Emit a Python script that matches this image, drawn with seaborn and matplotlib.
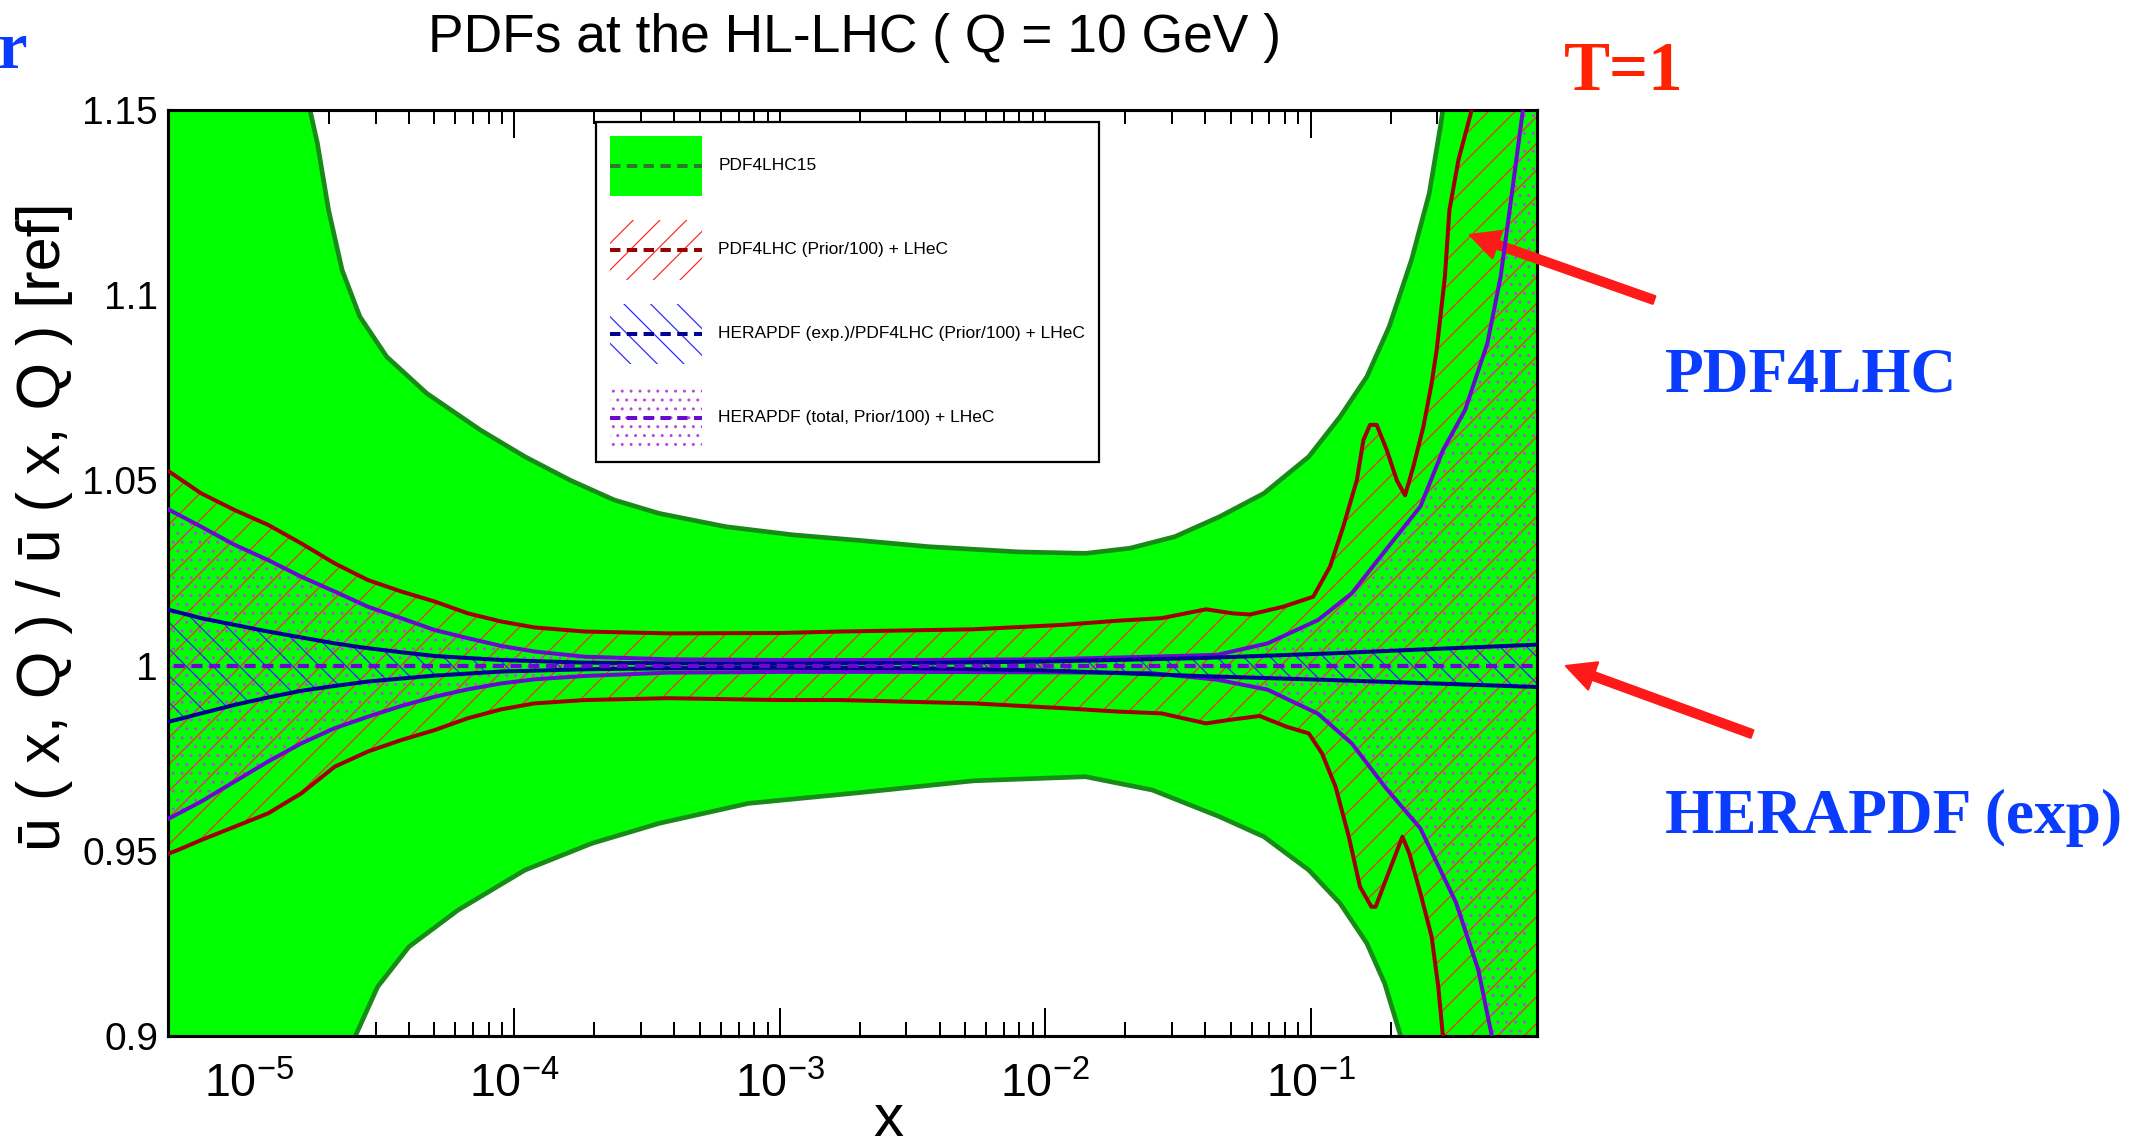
import numpy as np
import matplotlib
matplotlib.use("Agg")
import matplotlib.pyplot as plt
import seaborn as sns
from matplotlib.patches import Patch, Rectangle
from matplotlib.lines import Line2D
from matplotlib.ticker import LogLocator, NullFormatter, MultipleLocator

# ---------------- data (log10 x, ratio) ----------------
green_up_logx = [-5.35, -4.85, -4.770, -4.742, -4.700, -4.649, -4.582, -4.481, -4.330, -4.128, -3.960,
                 -3.791, -3.623, -3.455, -3.203, -2.950, -2.700, -2.437, -2.100, -1.848, -1.680, -1.512,
                 -1.343, -1.176, -1.007, -0.889, -0.788, -0.704, -0.620, -0.553, -0.511, -0.502, -0.40, -0.10]
green_up_y = [1.40, 1.20, 1.150, 1.141, 1.123, 1.1068, 1.0942, 1.0834, 1.0735, 1.0636, 1.0564,
              1.0501, 1.0447, 1.0411, 1.0375, 1.0353, 1.0338, 1.0321, 1.0307, 1.0303, 1.0317, 1.0348,
              1.0402, 1.0465, 1.0564, 1.0672, 1.078, 1.0915, 1.1095, 1.1275, 1.1455, 1.150, 1.22, 1.40]

green_lo_logx = [-5.35, -4.75, -4.599, -4.515, -4.397, -4.212, -3.960, -3.708, -3.455, -3.118, -2.700,
                 -2.269, -1.848, -1.596, -1.343, -1.176, -1.007, -0.889, -0.788, -0.721, -0.662, -0.55, -0.10]
green_lo_y = [0.70, 0.86, 0.900, 0.9133, 0.9241, 0.934, 0.9448, 0.952, 0.9574, 0.9628, 0.9657,
              0.9689, 0.970, 0.9664, 0.9592, 0.9538, 0.9448, 0.9358, 0.925, 0.9142, 0.9003, 0.86, 0.70]

red_up_logx = [-5.33, -5.299, -5.180, -5.054, -4.928, -4.803, -4.677, -4.552, -4.426, -4.300, -4.175,
               -4.049, -3.924, -3.735, -3.421, -3.000, -2.773, -2.269, -1.933, -1.730, -1.562, -1.394,
               -1.293, -1.228, -1.103, -0.990, -0.927, -0.877, -0.826, -0.801, -0.776, -0.751, -0.713,
               -0.675, -0.644, -0.613, -0.575, -0.544, -0.525, -0.494, -0.477, -0.443, -0.393, -0.30, -0.10]
red_up_y = [1.0535, 1.0523, 1.0465, 1.042, 1.038, 1.033, 1.0276, 1.0231, 1.020, 1.0173, 1.0141,
            1.0119, 1.0103, 1.0092, 1.0087, 1.0088, 1.0092, 1.0098, 1.011, 1.0121, 1.0128, 1.0152,
            1.0141, 1.0138, 1.0159, 1.0186, 1.0267, 1.0375, 1.050, 1.0609, 1.065, 1.065, 1.0582,
            1.050, 1.046, 1.0537, 1.0645, 1.0762, 1.0852, 1.105, 1.123, 1.1365, 1.150, 1.20, 1.30]

red_lo_logx = [-5.33, -5.268, -5.180, -5.054, -4.928, -4.803, -4.677, -4.552, -4.426, -4.300, -4.175,
               -4.049, -3.924, -3.735, -3.421, -3.000, -2.773, -2.269, -1.933, -1.730, -1.562, -1.394,
               -1.310, -1.192, -1.091, -1.007, -0.957, -0.906, -0.856, -0.814, -0.771, -0.755, -0.712,
               -0.654, -0.628, -0.586, -0.544, -0.519, -0.502, -0.40, -0.10]
red_lo_y = [0.9485, 0.9502, 0.9529, 0.9565, 0.9601, 0.9655, 0.9727, 0.9768, 0.9799, 0.9826, 0.9858,
            0.9882, 0.9898, 0.9907, 0.9912, 0.9907, 0.9907, 0.9898, 0.9885, 0.9876, 0.9871, 0.9844,
            0.9853, 0.9864, 0.9835, 0.9817, 0.9763, 0.9673, 0.9538, 0.9403, 0.9349, 0.9349, 0.943,
            0.9538, 0.9493, 0.9385, 0.9268, 0.9133, 0.9003, 0.86, 0.80]

purple_up_logx = [-5.33, -5.299, -5.180, -5.054, -4.928, -4.803, -4.677, -4.552, -4.426, -4.300, -4.175,
                  -4.049, -3.924, -3.735, -3.421, -3.000, -2.500, -2.000, -1.605, -1.352, -1.162, -0.972,
                  -0.845, -0.717, -0.586, -0.501, -0.418, -0.334, -0.284, -0.250, -0.225, -0.200, -0.10]
purple_up_y = [1.0435, 1.042, 1.0375, 1.0326, 1.0285, 1.024, 1.020, 1.0159, 1.0128, 1.0096, 1.0074,
               1.0053, 1.0038, 1.0024, 1.0017, 1.0015, 1.0015, 1.0017, 1.0024, 1.0029, 1.006, 1.0123,
               1.0195, 1.0312, 1.043, 1.0582, 1.069, 1.087, 1.105, 1.123, 1.1365, 1.150, 1.22]

purple_lo_logx = [-5.33, -5.299, -5.180, -5.054, -4.928, -4.803, -4.677, -4.552, -4.426, -4.300, -4.175,
                  -4.049, -3.924, -3.735, -3.421, -3.000, -2.500, -2.000, -1.605, -1.352, -1.162, -0.972,
                  -0.845, -0.717, -0.586, -0.452, -0.368, -0.318, -0.20]
purple_lo_y = [0.9575, 0.9588, 0.9633, 0.9687, 0.9741, 0.979, 0.9831, 0.9862, 0.9891, 0.9916, 0.9936,
               0.9952, 0.9963, 0.9972, 0.9981, 0.9983, 0.9983, 0.9982, 0.998, 0.9962, 0.9935, 0.9870,
               0.9790, 0.9670, 0.9560, 0.9360, 0.9178, 0.9003, 0.86]

blue_up_logx = [-5.33, -5.299, -5.180, -5.054, -4.928, -4.803, -4.677, -4.552, -4.426, -4.300, -4.049,
                -3.735, -3.400, -3.000, -2.500, -2.000, -1.428, -0.923, -0.500, -0.10]
blue_up_y = [1.0155, 1.015, 1.0128, 1.011, 1.0092, 1.0076, 1.006, 1.0047, 1.0036, 1.0026, 1.0015,
             1.0008, 1.0006, 1.0005, 1.0007, 1.0011, 1.002, 1.0033, 1.0046, 1.0058]

blue_lo_logx = [-5.33, -5.299, -5.180, -5.054, -4.928, -4.803, -4.677, -4.552, -4.300, -4.049, -3.735,
                -3.400, -3.000, -2.500, -2.000, -1.428, -0.923, -0.500, -0.10]
blue_lo_y = [0.9845, 0.9849, 0.9871, 0.9894, 0.9914, 0.9932, 0.9945, 0.9957, 0.9973, 0.9984, 0.999,
             0.9993, 0.9994, 0.9993, 0.9987, 0.9972, 0.9961, 0.9951, 0.9941]

central_logx = [-5.35, -0.10]
central_y = [1.0, 1.0]

yticks = [0.9, 0.95, 1.0, 1.05, 1.1, 1.15]
ytick_labels = ["0.9", "0.95", "1", "1.05", "1.1", "1.15"]

legend_labels = ["PDF4LHC15", "PDF4LHC (Prior/100) + LHeC",
                 "HERAPDF (exp.)/PDF4LHC (Prior/100) + LHeC",
                 "HERAPDF (total, Prior/100) + LHeC"]

title_text = "PDFs at the HL-LHC ( Q = 10 GeV )"
ylabel_text = "ū ( x, Q ) / ū ( x, Q ) [ref]"
xlabel_text = "x"

# ---------------- style ----------------
W, H, DPI = 2138, 1144, 160
sns.set_style("ticks")
plt.rcParams['font.family'] = ['Liberation Sans', 'DejaVu Sans']
plt.rcParams['mathtext.fontset'] = 'custom'
plt.rcParams['mathtext.rm'] = 'Liberation Sans'
plt.rcParams['mathtext.it'] = 'Liberation Sans:italic'
plt.rcParams['mathtext.bf'] = 'Liberation Sans:bold'
plt.rcParams['mathtext.default'] = 'regular'
plt.rcParams['hatch.linewidth'] = 0.55
plt.rcParams['text.color'] = 'black'
plt.rcParams['axes.edgecolor'] = 'black'
plt.rcParams['xtick.color'] = 'black'
plt.rcParams['ytick.color'] = 'black'

GREEN = '#00ff00'
GREEN_EDGE = '#178a17'
RED = '#a00000'
RED_HATCH = '#ff2a2a'
PURPLE = '#6a0ad0'
DOT = '#b848e0'
NAVY = '#000096'
BLUE_HATCH = '#2a2aff'
TXT_BLUE = '#0a3cff'
TXT_RED = '#ff2200'
ARROW_RED = '#ff1a1a'

fig = plt.figure(figsize=(W / DPI, H / DPI), dpi=DPI)
ax = fig.add_axes([168 / W, 1 - 1036 / H, (1537 - 168) / W, (1036 - 110) / H])
ax.set_xscale('log')


def X(lg):
    return 10.0 ** np.asarray(lg, dtype=float)


def band(xu, yu, xl, yl, **kw):
    xs = np.concatenate([X(xu), X(xl)[::-1]])
    ys = np.concatenate([np.asarray(yu), np.asarray(yl)[::-1]])
    return ax.fill(xs, ys, **kw)


def line(lx, ly, color, lw, z, **kw):
    sns.lineplot(x=X(lx), y=np.asarray(ly), ax=ax, color=color, linewidth=lw,
                 sort=False, estimator=None, legend=False, zorder=z, **kw)


# bands
band(green_up_logx, green_up_y, green_lo_logx, green_lo_y, facecolor=GREEN, edgecolor='none', lw=0, zorder=1)
band(red_up_logx, red_up_y, red_lo_logx, red_lo_y, facecolor='none', edgecolor=RED_HATCH, hatch='//', lw=0, zorder=1.2)
band(purple_up_logx, purple_up_y, purple_lo_logx, purple_lo_y, facecolor='none', edgecolor=DOT, hatch='...', lw=0, zorder=1.3)
band(blue_up_logx, blue_up_y, blue_lo_logx, blue_lo_y, facecolor='none', edgecolor=BLUE_HATCH, hatch='\\\\', lw=0, zorder=1.4)

# boundary lines
line(green_up_logx, green_up_y, GREEN_EDGE, 2.1, 2)
line(green_lo_logx, green_lo_y, GREEN_EDGE, 2.1, 2)
line(red_up_logx, red_up_y, RED, 1.8, 3)
line(red_lo_logx, red_lo_y, RED, 1.8, 3)
line(purple_up_logx, purple_up_y, PURPLE, 1.8, 3.2)
line(purple_lo_logx, purple_lo_y, PURPLE, 1.8, 3.2)
line(blue_up_logx, blue_up_y, NAVY, 1.8, 3.4)
line(blue_lo_logx, blue_lo_y, NAVY, 1.8, 3.4)
line(central_logx, central_y, PURPLE, 1.9, 3.6, linestyle=(0, (2.6, 1.6)))

# axes
ax.set_xlim(10 ** -5.305, 10 ** -0.147)
ax.set_ylim(0.9, 1.15)
ax.set_xlabel('')
ax.set_ylabel('')
ax.xaxis.set_major_locator(LogLocator(base=10, numticks=20))
ax.xaxis.set_minor_locator(LogLocator(base=10, subs=np.arange(2, 10), numticks=20))
ax.xaxis.set_minor_formatter(NullFormatter())
ax.set_yticks(yticks)
ax.set_yticklabels(ytick_labels)
ax.yaxis.set_minor_locator(MultipleLocator(0.01))
for s in ax.spines.values():
    s.set_visible(True)
    s.set_linewidth(1.4)
    s.set_color('black')
ax.tick_params(axis='both', which='both', direction='in', top=True, right=True, width=0.9, color='black')
ax.tick_params(axis='x', which='major', length=12.6, pad=12, labelsize=21)
ax.tick_params(axis='x', which='minor', length=6.3)
ax.tick_params(axis='y', which='major', length=10.5, pad=4.5, labelsize=17.5)
ax.tick_params(axis='y', which='minor', length=5.4)


# legend: band patch with a dashed central line through its middle
class BandHandler:
    def legend_artist(self, legend, orig_handle, fontsize, handlebox):
        patch, ln = orig_handle
        x0, y0 = handlebox.xdescent, handlebox.ydescent
        w, h = handlebox.width, handlebox.height
        tr = handlebox.get_transform()
        rect = Rectangle((-x0, -y0), w, h, facecolor=patch.get_facecolor(),
                         edgecolor=patch.get_edgecolor(), hatch=patch.get_hatch(), lw=0, transform=tr)
        handlebox.add_artist(rect)
        mid = -y0 + h / 2.0
        dash = Line2D([-x0, -x0 + w], [mid, mid], color=ln.get_color(), lw=ln.get_linewidth(),
                      linestyle=ln.get_linestyle(), transform=tr)
        dash.set_dashes((2.6, 1.6))
        handlebox.add_artist(dash)
        return rect


LEG_FS = 7.8
handles = [
    (Patch(facecolor=GREEN, edgecolor='none', lw=0),
     Line2D([], [], color='#2a7a2a', lw=1.8, linestyle='--')),
    (Patch(facecolor='white', edgecolor=RED_HATCH, hatch='//', lw=0),
     Line2D([], [], color='#990000', lw=1.8, linestyle='--')),
    (Patch(facecolor='white', edgecolor=BLUE_HATCH, hatch='\\\\', lw=0),
     Line2D([], [], color=NAVY, lw=1.8, linestyle='--')),
    (Patch(facecolor='white', edgecolor=DOT, hatch='...', lw=0),
     Line2D([], [], color=PURPLE, lw=1.8, linestyle='--')),
]
leg = ax.legend(handles, legend_labels, loc='upper left',
                bbox_to_anchor=((596 - 168) / 1369, (1036 - 122) / 926), borderaxespad=0,
                fontsize=LEG_FS, handlelength=5.3, handleheight=4.95, handletextpad=0.96,
                labelspacing=1.385, borderpad=0.8, frameon=True, fancybox=False,
                edgecolor='black', framealpha=1, handler_map={tuple: BandHandler()})
leg.get_frame().set_linewidth(1.0)
leg.set_zorder(10)

# texts
fig.text(854 / W, 1 - 52 / H, title_text, ha='center', va='baseline', fontsize=24)
fig.text(45 / W, 1 - 527 / H, ylabel_text, ha='center', va='center', rotation=90, fontsize=27.5)
fig.text(888 / W, 1 - 1136 / H, xlabel_text, ha='center', va='baseline', fontsize=27)

serif = ['Liberation Serif', 'DejaVu Serif']
fig.text(27 / W, 1 - 68 / H, 'r', ha='right', va='baseline', fontsize=30, fontweight='bold',
         family=serif, color=TXT_BLUE)
fig.text(1564 / W, 1 - 90 / H, 'T=1', ha='left', va='baseline', fontsize=31, fontweight='bold',
         family=serif, color=TXT_RED)
fig.text(1665 / W, 1 - 391 / H, 'PDF4LHC', ha='left', va='baseline', fontsize=28.5, fontweight='bold',
         family=serif, color=TXT_BLUE)
fig.text(1665 / W, 1 - 833 / H, 'HERAPDF (exp)', ha='left', va='baseline', fontsize=28.5, fontweight='bold',
         family=serif, color=TXT_BLUE)

# arrows (tail -> head) in figure pixels from top-left
arrows = [((1654, 300), (1470, 235)), ((1752, 734), (1566, 666))]
for (x0, y0), (x1, y1) in arrows:
    ax.annotate('', xy=(x1, H - y1), xytext=(x0, H - y0), xycoords='figure pixels',
                textcoords='figure pixels', annotation_clip=False,
                arrowprops=dict(facecolor=ARROW_RED, edgecolor=ARROW_RED, width=3.6,
                                headwidth=13, headlength=13, shrink=0))

fig.savefig('out.png', dpi=DPI)
